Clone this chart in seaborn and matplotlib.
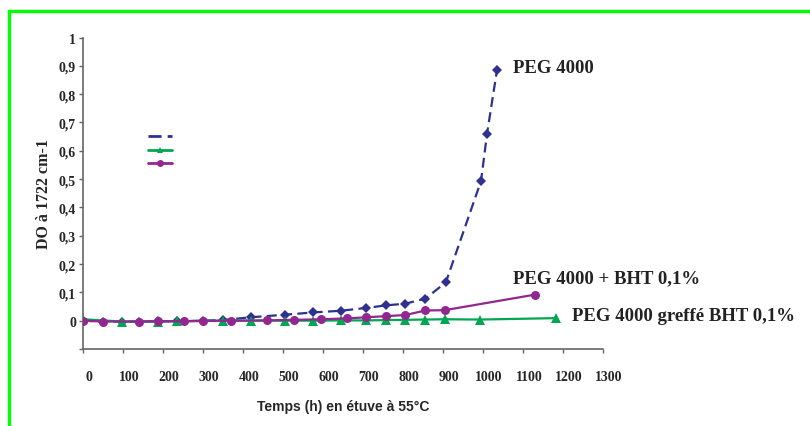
import numpy as np
import pandas as pd
import seaborn as sns
import matplotlib.pyplot as plt
from matplotlib.lines import Line2D
from matplotlib.patches import Rectangle
from matplotlib.transforms import ScaledTranslation

# values
peg_h = [0, 50, 97, 140, 188, 236, 300, 349, 419, 504, 575, 644, 708, 757,
         806, 856, 907, 995, 1010, 1035]
peg_do = [0.0, -0.003, -0.003, -0.003, -0.002, -0.002, 0.0, 0.002, 0.012,
          0.021, 0.029, 0.035, 0.045, 0.054, 0.06, 0.078, 0.135, 0.493,
          0.659, 0.885]

bht_h = [0, 50, 140, 188, 253, 300, 371, 459, 528, 596, 660, 708, 757, 806,
         856, 904, 1130]
bht_do = [0.0, -0.003, -0.003, -0.002, -0.002, -0.001, 0.0, 0.001, 0.003,
          0.005, 0.008, 0.012, 0.016, 0.02, 0.036, 0.037, 0.092]

greffe_h = [0, 97, 188, 236, 349, 419, 504, 575, 644, 708, 757, 806, 856,
            904, 993, 1183]
greffe_do = [0.005, -0.003, -0.003, -0.002, 0.0, 0.0, 0.0, 0.0, 0.001,
             0.001, 0.002, 0.003, 0.004, 0.005, 0.004, 0.009]

yticks = [-0.1, 0, 0.1, 0.2, 0.3, 0.4, 0.5, 0.6, 0.7, 0.8, 0.9, 1.0]
ytick_labels = ["", "0", "0,1", "0,2", "0,3", "0,4", "0,5", "0,6", "0,7",
                "0,8", "0,9", "1"]
xticks = list(range(0, 1301, 100))

BLUE = "#2e3192"
GREEN = "#00a651"
MAGENTA = "#92278f"

sns.set_style("white")
plt.rcParams["font.family"] = ["Liberation Serif", "DejaVu Serif"]

fig = plt.figure(figsize=(8.1, 4.27), dpi=100)
ax = fig.add_axes([83 / 810, 1 - 350 / 427, 520 / 810, 311.5 / 427])

df_peg = pd.DataFrame({"h": peg_h, "do": peg_do})
df_bht = pd.DataFrame({"h": bht_h, "do": bht_do})
df_gr = pd.DataFrame({"h": greffe_h, "do": greffe_do})

sns.lineplot(data=df_peg, x="h", y="do", ax=ax, color=BLUE, lw=1.6,
             marker="D", markersize=5, markeredgewidth=0, dashes=(4.5, 2.4),
             zorder=3)
sns.lineplot(data=df_gr, x="h", y="do", ax=ax, color=GREEN, lw=1.6,
             marker="^", markersize=7, markeredgewidth=0, zorder=4)
sns.lineplot(data=df_bht, x="h", y="do", ax=ax, color=MAGENTA, lw=1.6,
             marker="o", markersize=6.5, markeredgewidth=0, zorder=5)

ax.set_xlim(0, 1300)
ax.set_ylim(-0.1, 1.0)
ax.set_xticks(xticks)
ax.set_xticklabels([str(t) for t in xticks], fontsize=10, fontweight="bold")
ax.set_yticks(yticks)
ax.set_yticklabels(ytick_labels, fontsize=10, fontweight="bold")

for side in ["top", "right"]:
    ax.spines[side].set_visible(False)
for side in ["left", "bottom"]:
    ax.spines[side].set_color("#666666")
    ax.spines[side].set_linewidth(1.2)
ax.tick_params(axis="both", direction="out", length=3, width=1,
               color="#666666", left=True, bottom=True)
ax.tick_params(axis="y", pad=2)
ax.tick_params(axis="x", pad=12)

# x tick labels sit a bit to the right of their ticks in the original
for tick in ax.xaxis.get_major_ticks():
    tick.label1.set_transform(tick.label1.get_transform() +
                              ScaledTranslation(0.06, 0, fig.dpi_scale_trans))

ax.set_xlabel("Temps (h) en étuve à 55°C", fontsize=10, fontweight="bold",
              family=["Liberation Sans", "DejaVu Sans"], labelpad=12)
ax.set_ylabel("DO à 1722 cm-1", fontsize=11.5, fontweight="bold", labelpad=5)

ax.text(1075, 0.895, "PEG 4000", fontsize=13.5, fontweight="bold",
        va="center", ha="left", color="#222222")
ax.text(1075, 0.153, "PEG 4000 + BHT 0,1%", fontsize=13.5, fontweight="bold",
        va="center", ha="left", color="#222222")
ax.text(1223, 0.018, "PEG 4000 greffé BHT 0,1%", fontsize=13.5,
        fontweight="bold", va="center", ha="left", color="#222222")

# legend: line samples only, no text
handles = [
    Line2D([], [], color=BLUE, lw=2, dashes=(4.7, 2.2)),
    Line2D([], [], color=GREEN, lw=2, marker="^", markersize=5,
           markeredgewidth=0),
    Line2D([], [], color=MAGENTA, lw=2, marker="o", markersize=5,
           markeredgewidth=0),
]
ax.legend(handles, ["", "", ""], loc="upper left", frameon=False,
          bbox_to_anchor=(142 / 810, 1 - 128 / 427),
          bbox_transform=fig.transFigure, handlelength=2.2, fontsize=8,
          labelspacing=0.3, handletextpad=0, borderpad=0)

fig.patches.append(Rectangle((8.5 / 810, -0.2), 1.2, 1.2 - 11.5 / 427,
                             transform=fig.transFigure, fill=False,
                             edgecolor="#00ff00", lw=2.4))

fig.savefig("out.png", dpi=100)
